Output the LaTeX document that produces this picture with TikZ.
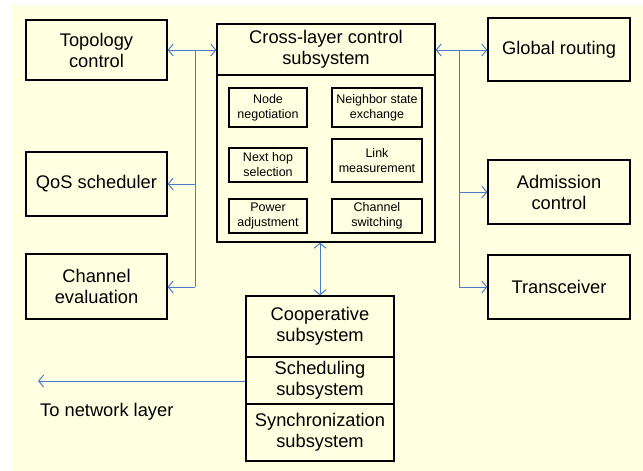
\documentclass[tikz,border=0pt]{standalone}
\usepackage{fontspec}
\setmainfont{Liberation Sans}
\usetikzlibrary{arrows.meta}
\definecolor{bgyellow}{RGB}{255,255,226}
\definecolor{linkblue}{RGB}{74,126,200}
\tikzset{
  box/.style={draw=black, line width=1.2pt, fill=bgyellow, align=center, inner sep=0pt,
    font=\fontsize{18.3}{21}\selectfont},
  smallbox/.style={draw=black, line width=1.1pt, fill=bgyellow, align=center, inner sep=0pt,
    font=\fontsize{12.5}{15}\selectfont},
  link/.style={draw=linkblue, line width=1pt},
  tip/.style={-{Straight Barb[length=5pt,width=12pt]}},
  tips/.style={{Straight Barb[length=5pt,width=12pt]}-{Straight Barb[length=5pt,width=12pt]}},
}
\begin{document}
\begin{tikzpicture}[x=1pt,y=-1pt]
\useasboundingbox (0,0) rectangle (643,471);
\fill[bgyellow] (12,5) rectangle (643,471);

% left boxes
\node[box, minimum width=141pt, minimum height=60pt] (topo) at (96.5,50) {Topology\\control};
\node[box, minimum width=141pt, minimum height=64pt] (qos) at (96.5,184) {QoS scheduler};
\node[box, minimum width=141pt, minimum height=65pt] (chev) at (96.5,286.5) {Channel\\evaluation};

% cross-layer subsystem
\node[box, minimum width=218pt, minimum height=218pt] (crossbody) at (326,133) {};
\node[box, minimum width=218pt, minimum height=51pt] (crosshead) at (326,49.5) {Cross-layer control\\subsystem};
\node[smallbox, minimum width=78pt, minimum height=39pt] (nn) at (268,107.5) {Node\\negotiation};
\node[smallbox, minimum width=78pt, minimum height=34pt] (nh) at (268,165) {Next hop\\selection};
\node[smallbox, minimum width=78pt, minimum height=34pt] (pa) at (268,216) {Power\\adjustment};
\node[smallbox, minimum width=90pt, minimum height=39pt] (ns) at (377,107.5) {Neighbor state\\exchange};
\node[smallbox, minimum width=90pt, minimum height=43pt] (lm) at (377,160.5) {Link\\measurement};
\node[smallbox, minimum width=90pt, minimum height=34pt] (cs) at (377,216) {Channel\\switching};

% right boxes
\node[box, minimum width=142pt, minimum height=63pt] (glob) at (559,49.5) {Global routing};
\node[box, minimum width=142pt, minimum height=64pt] (adm) at (559,192) {Admission\\control};
\node[box, minimum width=142pt, minimum height=64pt] (trans) at (559,287) {Transceiver};

% lower stack
\node[box, minimum width=148pt, minimum height=61pt] (coop) at (320,326.5) {Cooperative\\subsystem};
\node[box, minimum width=148pt, minimum height=47pt] (sched) at (320,380.5) {Scheduling\\subsystem};
\node[box, minimum width=148pt, minimum height=57pt] (sync) at (320,432.5) {Synchronization\\subsystem};

% label
\node[font=\fontsize{18.3}{21}\selectfont, anchor=west, inner sep=0pt] (netlabel) at (40,412) {To network layer};

% coordinates
\coordinate (lb1) at (195,50);
\coordinate (lbq) at (195,184);
\coordinate (lb2) at (195,287);
\coordinate (rb1) at (459,50);
\coordinate (rba) at (459,192);
\coordinate (rb2) at (459,287);
\coordinate (net) at (38,381);

% connectors
\draw[link, tips] (topo.east |- lb1) -- (crossbody.west |- lb1);
\draw[link] (lb1) -- (lb2);
\draw[link, tip] (lbq) -- (qos.east |- lbq);
\draw[link, tip] (lb2) -- (chev.east |- lb2);

\draw[link, tips] (crossbody.east |- rb1) -- (glob.west |- rb1);
\draw[link] (rb1) -- (rb2);
\draw[link, tip] (rba) -- (adm.west |- rba);
\draw[link, tip] (rb2) -- (trans.west |- rb2);

\draw[link, tips] (coop.north |- crossbody.south) -- (coop.north);
\draw[link, tip] (sched.west |- net) -- (net);
\end{tikzpicture}
\end{document}
